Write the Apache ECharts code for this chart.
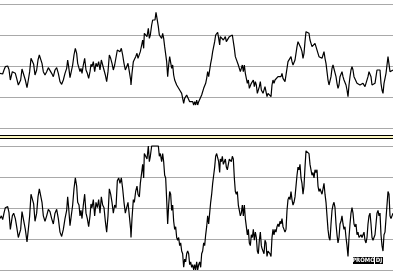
<!DOCTYPE html>
<html><head><meta charset="utf-8">
<script src="https://cdn.jsdelivr.net/npm/echarts@6/dist/echarts.min.js"></script>
<style>html,body{margin:0;padding:0;background:#fff;overflow:hidden}#c{width:393px;height:276px}</style>
</head><body><div id="c"></div>
<script>
// sample index (time) and series value
const t = [
0,4,8,12,16,20,23,27,31,34,37,41,46,50,55,58,62,66,71,76,81,85,89,93,97,101,105,110,114,118,122,126,130,135,140,145,150,155,160,165,170,175,180,185,190,195,200,203,206,210,214,218,222,226,230,233,237,240,243,246,250,254,258,262,266,270,273,276,280,284,288,292,296,300,304,308,312,316,320,324,328,332,336,340,344,348,352,356,360,364,368,372,376,380,384,388,392,
393,396,400,403,407,411,414,418,421,425,428,431,433,437,441,445,448,451,455,458,461,465,468,471,475,478,481,485,488,491,494,497,500,503,506,509,512,515,518,521,524,527,530,533,536,539,542,545,548,551,554,557,560,563,566,569,572,575,578,581,584,587,590,593,596,599,602,605,608,611,614,617,620,623,626,629,632,635,638,641,644,647,650,653,656,659,661,664,667,670,673,676,679,682,685,688,691,694,697,700,703,706,709,712,715,718,721,724,727,730,733,736,739,742,745,748,751,754,757,760,763,766,769,772,775,778,781,784,
786,789,792,795,798,801,804,807,810,813,816,819,822,825,828,831,834,837,840,843,846,849,852,855,858,861,864,867,870,873,876,879,882,885,888,891,894,897,900,903,906,909,912,915,918,921,924,927,930,933,936,939,942,945,948,951,954,957,960,963,966,969,972,975,978,981,984,987,990,993,996,999,1002,1005,1008,1011,1014,1017,1020,1023,1026,1029,1032,1035,1038,1041,1044,1047,1050,1053,1056,1059,1062,1065,1068,1071,1074,1077,1080,1083,1086,1089,1092,1095,1098,1101,1104,1107,1110,1113,1116,1119,1122,1125,1128,1131,1134,1137,1140,1143,1146,1149,1152,1155,1158,1161,1164,1167,1170,1173,1176,1179
];
const v = [
164,169,162,174,184,182,186,175,144,141,169,174,164,149,129,131,144,177,174,144,121,144,169,209,211,191,159,174,204,219,219,194,169,159,169,181,177,164,154,174,181,164,139,131,144,164,179,204,184,151,154,189,219,239,224,194,189,169,179,164,189,209,174,164,149,169,191,184,199,169,194,184,199,174,204,189,184,159,139,169,219,209,194,174,189,184,234,239,229,239,219,194,174,184,194,169,144,
129,164,199,194,214,224,209,204,229,249,264,239,284,284,274,299,269,279,309,324,329,324,347,329,304,279,284,269,284,269,244,239,199,154,189,214,209,179,189,159,144,149,129,124,129,114,119,104,99,74,89,84,99,104,99,79,84,74,79,69,79,69,84,69,79,84,74,99,104,119,114,134,149,169,154,174,194,209,229,244,259,279,284,287,269,249,274,269,279,264,269,274,259,254,264,274,277,269,279,274,239,214,209,214,189,179,169,174,189,169,189,164,149,134,144,119,114,134,129,144,124,139,129,104,99,124,139,114,
109,104,99,124,119,94,104,107,99,94,129,144,134,144,139,149,154,149,159,154,164,149,144,139,144,179,199,204,199,214,199,189,194,204,224,244,259,254,264,239,229,209,224,259,289,289,291,284,264,254,244,249,239,254,249,254,224,214,219,214,209,219,229,209,194,169,144,129,124,154,179,189,194,184,154,134,119,129,154,159,169,154,144,149,129,114,94,129,154,174,184,174,154,149,154,134,139,129,129,134,129,134,139,124,119,129,154,169,174,154,129,124,129,134,154,174,179,169,174,134,114,104,134,139,164,189,214,209,169,164,169,174
];
const topRange = [0, 372, 93];     // full view
const zoomRange = [69, 298];       // magnified view (clips the highs)
const gridSteps = [0, 4, 1];       // four equal bands in each panel
const badges = ['PROMO', 'DJ'];

const chart = echarts.init(document.getElementById('c'), null, {renderer: 'canvas'});
const gridStyle = {show: true, lineStyle: {color: '#a9a9a9', width: 1}};
const hidden = {axisLine: {show: false}, axisTick: {show: false}, axisLabel: {show: false}};
function xAx(i) {
  return Object.assign({type: 'value', gridIndex: i, min: t[0], max: t[t.length - 1], splitLine: {show: false}}, hidden);
}
const yAxes = [
  Object.assign({type: 'value', gridIndex: 0, min: topRange[0], max: topRange[1], interval: topRange[2], splitLine: gridStyle}, hidden),
  Object.assign({type: 'value', gridIndex: 1, min: zoomRange[0], max: zoomRange[1], splitLine: {show: false}}, hidden),
  Object.assign({type: 'value', gridIndex: 1, min: gridSteps[0], max: gridSteps[1], interval: gridSteps[2], splitLine: gridStyle, position: 'right'}, hidden)
];
const pairsTop = t.map((x, i) => [x, v[i]]);
const pairsBot = t.map((x, i) => [x, Math.min(zoomRange[1], Math.max(zoomRange[0], v[i]))]);
const lineSeries = (xi, yi, d) => ({type: 'line', xAxisIndex: xi, yAxisIndex: yi, data: d, showSymbol: false,
  symbol: 'none', clip: false, lineStyle: {color: '#000', width: 1.2}, animation: false, z: 5});

chart.setOption({
  animation: false,
  backgroundColor: '#fff',
  grid: [
    {left: 0, right: 0, top: 4, height: 124},
    {left: 0, right: 0, top: 146, height: 124}
  ],
  xAxis: [xAx(0), xAx(1)],
  yAxis: yAxes,
  series: [lineSeries(0, 0, pairsTop), lineSeries(1, 1, pairsBot)],
  graphic: [
    {type: 'rect', shape: {x: 0, y: 135, width: 393, height: 1}, style: {fill: '#000'}},
    {type: 'rect', shape: {x: 0, y: 136, width: 393, height: 2}, style: {fill: '#fbf6c0'}},
    {type: 'rect', shape: {x: 0, y: 138, width: 393, height: 1}, style: {fill: '#000'}},
    {type: 'rect', shape: {x: 353, y: 257, width: 21, height: 7}, style: {fill: '#000'}, z: 100},
    {type: 'text', x: 363.5, y: 260.8, z: 101, style: {text: badges[0], fill: '#fff', font: 'bold 6px "DejaVu Sans Condensed"', align: 'center', verticalAlign: 'middle'}},
    {type: 'rect', shape: {x: 375, y: 257, width: 8, height: 7}, style: {fill: '#000'}, z: 100},
    {type: 'text', x: 379, y: 260.8, z: 101, style: {text: badges[1], fill: '#fff', font: 'bold 6px "DejaVu Sans Condensed"', align: 'center', verticalAlign: 'middle'}}
  ]
});
</script>
</body></html>
